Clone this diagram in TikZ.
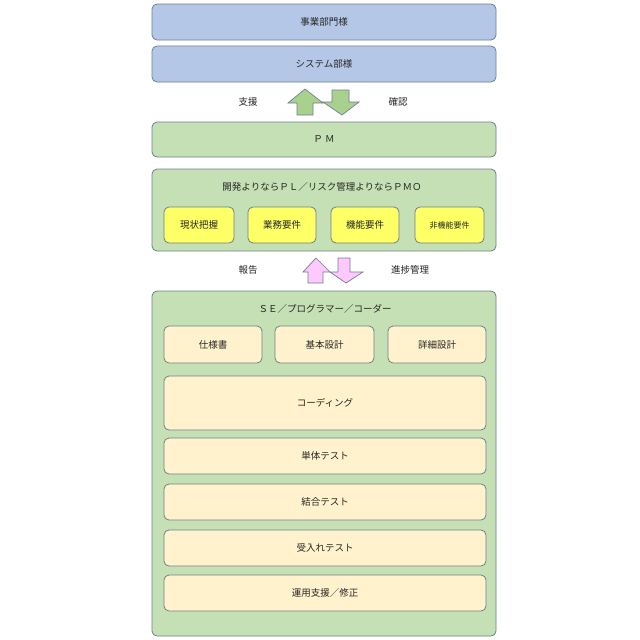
\documentclass[tikz,border=0pt]{standalone}
\usepackage{fontspec}
\setmainfont{Noto Sans CJK JP}
\begin{document}
\begin{tikzpicture}[x=1pt,y=-1pt,
 bx/.style={draw=bd,rounded corners=5pt,line width=0.8pt},
 blue/.style={bx,fill=bl},green/.style={bx,fill=gr},
 yel/.style={bx,fill=ye},lyel/.style={bx,fill=ly},
 lbl/.style={font=\fontsize{9.5}{11}\selectfont,text=black!85}]
\definecolor{bd}{HTML}{6E7F8E}
\definecolor{bl}{HTML}{B4C7E7}
\definecolor{gr}{HTML}{C5E0B4}
\definecolor{ye}{HTML}{FFFF66}
\definecolor{ly}{HTML}{FFF2CC}
\definecolor{pk}{HTML}{FFC9FF}
\definecolor{ga}{HTML}{A9D18E}
\useasboundingbox (0,0) rectangle (640,640);
\fill[white] (0,0) rectangle (640,640);
\newcommand\bbox[6]{\draw[#1] (#2,#3) rectangle (#4,#5); \node[lbl] at ({(#2+#4)/2},{(#3+#5)/2}) {#6};}
\bbox{blue}{152}{4}{496}{40}{事業部門様}
\bbox{blue}{152}{46}{496}{82}{システム部様}
\bbox{green}{152}{122}{496}{157}{Ｐ Ｍ}
\draw[green] (152,169) rectangle (496,251);
\node[lbl] at (322,187) {開発よりならＰＬ／リスク管理よりならＰＭＯ};
\bbox{yel}{164}{207}{234}{243}{現状把握}
\bbox{yel}{248}{207}{316}{243}{業務要件}
\bbox{yel}{331}{207}{399}{243}{機能要件}
\bbox{yel}{415}{207}{484}{243}{\fontsize{8}{9}\selectfont 非機能要件}
\draw[green] (152,291) rectangle (496,636);
\node[lbl] at (325,309) {ＳＥ／プログラマー／コーダー};
\bbox{lyel}{164}{326}{262}{363}{仕様書}
\bbox{lyel}{275}{326}{374}{363}{基本設計}
\bbox{lyel}{388}{326}{486}{363}{詳細設計}
\bbox{lyel}{164}{376}{486}{430}{コーディング}
\bbox{lyel}{164}{438}{486}{474}{単体テスト}
\bbox{lyel}{164}{484}{486}{520}{結合テスト}
\bbox{lyel}{164}{530}{486}{566}{受入れテスト}
\bbox{lyel}{164}{575}{486}{611}{運用支援／修正}
\node[lbl] (a1) at (248,102) {支援};
\node[lbl] (a2) at (398,102) {確認};
\node[lbl] (a3) at (248,270) {報告};
\node[lbl] (a4) at (410,270) {進捗管理};
\draw[draw=bd,fill=ga,line width=0.7pt] (297,115)--(297,103)--(288,103)--(305,89)--(323,103)--(313,103)--(313,115)--cycle;
\draw[draw=bd,fill=ga,line width=0.7pt] (332,90)--(349,90)--(349,102)--(359,102)--(342,115)--(323,102)--(332,102)--cycle;
\draw[draw=bd,fill=pk,line width=0.7pt] (308,283)--(308,272)--(303,272)--(316,258)--(330,272)--(323,272)--(323,283)--cycle;
\draw[draw=bd,fill=pk,line width=0.7pt] (338,258)--(350,258)--(350,272)--(363,272)--(346,283)--(330,272)--(338,272)--cycle;
\end{tikzpicture}
\end{document}
